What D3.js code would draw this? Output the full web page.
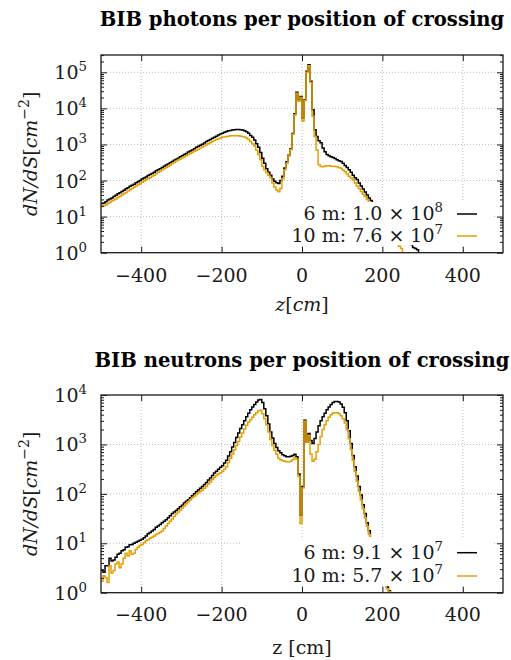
<!DOCTYPE html>
<html>
<head>
<meta charset="utf-8">
<script src="https://cdn.jsdelivr.net/npm/d3@7"></script>
<style>body{margin:0;background:#fff}</style>
</head>
<body>
<div id="chart"></div>
<script>
// 5 cm bins; the edge lists close the last bin
var Z_PHOTONS = d3.range(-500, 305, 5);
var Z_NEUTRONS = d3.range(-500, 235, 5);

var PHOTONS_6M = [
  23,24,26,29,31,33,36,39,43,46,50,54,59,63,69,74,79,87,93,100,
  110,117,126,137,148,158,170,186,200,214,229,250,269,288,309,339,363,389,417,457,
  490,525,562,617,661,708,759,832,891,955,1020,1100,1200,1290,1380,1480,1580,1700,1820,1950,
  2040,2190,2290,2400,2450,2530,2570,2600,2600,2570,2510,2400,2240,2040,1780,1580,1320,1050,832,600,
  417,300,214,170,141,110,95,87,83,100,
  132,224,331,501,759,2000,7080,28200,17400,21400,
  5370,17400,107000,162000,56200,9120,2570,1660,1260,1120,794,631,
  525,490,457,437,407,380,355,339,300,263,229,200,170,141,120,107,85,71,58,48,
  40,33,28,24,21,19,17,15,13,11,10,8.9,7.6,6.6,5.8,5.0,4.4,3.8,3.3,2.8,
  2.4,2.1,1.7,1.4,1.3,1.2,0.8,0.5];
var PHOTONS_10M = [
  19,20,21,23,25,27,29,31,34,37,40,43,47,51,55,60,65,71,76,82,
  89,97,105,112,120,131,141,155,166,180,195,214,229,245,269,295,316,347,372,398,
  427,457,490,525,562,603,646,692,741,794,851,912,977,1050,1120,1200,1290,1380,1450,1510,
  1580,1620,1660,1700,1740,1740,1740,1740,1740,1700,1660,1600,1510,1380,1200,1050,912,700,525,380,
  251,200,166,141,120,85,66,55,49,60,
  112,200,302,479,724,1910,6610,26300,15800,20000,
  4470,16600,100000,151000,52500,6030,1660,708,275,245,240,251,
  257,257,251,251,245,240,229,219,195,174,151,132,117,105,85,71,60,50,42,36,
  30,25,22,19,16,14,12,10.5,9.1,7.9,6.6,5.6,4.8,4.0,3.2,2.5,1.5,1.3,0.5,0.5,
  0.5,0.5,0.5,0.5,0.5,0.5,0.5,0.5];

var NEUTRONS_6M = [
  2.8,2.6,3.5,3.5,5.0,4.4,4.6,5.2,6.0,6.3,7.1,7.4,8.3,8.5,9.3,9.5,10,10.5,11,11.5,
  12,13,14,15.5,16.6,17.8,19,21,22.4,24,26,28,30,33,36,40,43,46,50,55,
  59,65,71,76,83,91,100,110,120,130,141,155,170,190,209,235,263,288,316,347,
  372,420,479,580,708,890,1100,1380,1700,2090,2510,3020,3630,4270,5010,5750,6460,7240,7940,8130,
  7080,5250,3800,2600,1780,1350,1050,870,741,676,617,590,562,562,575,600,
  631,562,251,37,141,3090,1120,1660,1200,1050,1320,1780,
  2400,3000,3630,4270,5010,5750,6460,7080,7410,7410,7240,6610,5620,4370,3020,1900,1050,600,355,230,
  141,95,60,40,26,18,13,10,7.9,6.2,4.8,3.5,2.6,1.8,1.3,1.1,0.5,0.5];
var NEUTRONS_10M = [
  1.7,2.2,2.0,1.6,3.5,2.5,2.8,3.8,4.2,3.2,3.8,5.0,6.3,5.5,7.1,6.0,6.3,7.5,8.3,9.0,
  9.5,10.3,11.2,11.8,12.6,13.2,14,15,15.8,16.8,17.8,20,22.4,25,28,31,35,39,43,47,
  52,57,63,69,76,83,89,97,105,112,120,130,141,158,174,195,214,234,251,265,
  282,316,355,430,525,640,776,950,1150,1410,1700,2040,2450,2800,3160,3550,3980,4370,4790,4900,
  4170,3310,2510,1780,1260,955,759,630,525,490,468,457,447,447,457,490,
  537,501,224,25,132,2950,1120,1510,631,457,501,708,
  1000,1450,2000,2500,3020,3550,3980,4270,4370,4370,4170,3800,3310,2700,2000,1300,794,480,282,180,
  112,75,50,33,22,15,11,8.3,6.3,4.8,3.5,2.8,2.2,1.6,1.2,1.05,0.5,0.5];

var X_TICKS = [-400, -200, 0, 200, 400];
var PHOTON_DECADES = [0, 1, 2, 3, 4, 5];
var NEUTRON_DECADES = [0, 1, 2, 3, 4];
var LEGEND_PHOTONS = [["6 m: 1.0 \u00d7 10", "8"], ["10 m: 7.6 \u00d7 10", "7"]];
var LEGEND_NEUTRONS = [["6 m: 9.1 \u00d7 10", "7"], ["10 m: 5.7 \u00d7 10", "7"]];

(function () {
  "use strict";
  var BLACK = "#000000", ORANGE = "#e69f00", GRID = "#b8b8b8", INK = "#1a1a1a";
  var FONT = "DejaVu Serif";
  var svg = d3.select("#chart").append("svg").attr("width", 511).attr("height", 660)
    .attr("font-family", FONT);

  function supText(sel, base, exp, size) {
    sel.append("tspan").text(base);
    sel.append("tspan").attr("dy", -size * 0.42).attr("font-size", size * 0.7).text(exp);
  }
  function txt(parent) {
    return parent.append("text").attr("font-family", FONT).attr("fill", INK).attr("font-size", 19);
  }

  function panel(o) {
    var iw = 402, ih = 197.7, L = 101;
    txt(svg).attr("x", 302).attr("y", o.titleY).attr("text-anchor", "middle")
      .attr("font-size", 19.6).attr("font-weight", "bold").attr("fill", BLACK).text(o.title);
    var g = svg.append("g").attr("transform", "translate(" + L + "," + o.top + ")");
    var x = d3.scaleLinear().domain([-500, 500]).range([0, iw]);
    var y = d3.scaleLog().domain([1, o.ymax]).range([ih, 0]);
    var clipId = "clip" + o.top;
    g.append("clipPath").attr("id", clipId).append("rect").attr("width", iw).attr("height", ih);

    // dotted grid
    X_TICKS.forEach(function (t) {
      g.append("line").attr("x1", x(t)).attr("x2", x(t)).attr("y1", 0).attr("y2", ih)
        .attr("stroke", GRID).attr("stroke-width", 0.9).attr("stroke-dasharray", "1,2");
    });
    o.decades.forEach(function (d) {
      var yy = y(Math.pow(10, d));
      if (yy <= 0.5 || yy >= ih - 0.5) return;
      g.append("line").attr("x1", 0).attr("x2", iw).attr("y1", yy).attr("y2", yy)
        .attr("stroke", GRID).attr("stroke-width", 0.9).attr("stroke-dasharray", "1,2");
    });

    // histograms as step lines
    var line = d3.line().x(function (d) { return x(d[0]); }).y(function (d) { return y(d[1]); })
      .curve(d3.curveStepAfter);
    var curves = g.append("g").attr("clip-path", "url(#" + clipId + ")");
    o.series.forEach(function (s) {
      var pts = o.edges.map(function (z, i) { return [z, s.values[Math.min(i, s.values.length - 1)]]; });
      curves.append("path").attr("d", line(pts)).attr("fill", "none")
        .attr("stroke", s.color).attr("stroke-width", 1.5);
    });

    // opaque key
    var k = o.key;
    g.append("rect").attr("x", k.x0).attr("y", k.y0).attr("width", k.x1 - k.x0).attr("height", k.y1 - k.y0)
      .attr("fill", "#fff");
    o.legend.forEach(function (e, i) {
      var t = txt(g).attr("x", k.textX).attr("y", k.rows[i] + 6).attr("text-anchor", "end");
      supText(t, e[0], e[1], 19);
      g.append("line").attr("x1", k.lineX0).attr("x2", k.lineX1).attr("y1", k.rows[i]).attr("y2", k.rows[i])
        .attr("stroke", o.series[i].color).attr("stroke-width", 1.5);
    });

    // frame and inward ticks
    g.append("rect").attr("width", iw).attr("height", ih).attr("fill", "none")
      .attr("stroke", INK).attr("stroke-width", 1.3);
    var minors = [];
    o.decades.forEach(function (d) {
      for (var m = 2; m <= 9; m++) {
        var v = m * Math.pow(10, d);
        if (v < o.ymax) minors.push(v);
      }
    });
    var majors = o.decades.map(function (d) { return Math.pow(10, d); });
    function strip(a) { a.select(".domain").remove(); a.selectAll("line").attr("stroke", INK); }
    g.append("g").attr("transform", "translate(0," + ih + ")")
      .call(d3.axisBottom(x).tickValues(X_TICKS).tickSize(-6).tickFormat("")).call(strip);
    g.append("g").call(d3.axisTop(x).tickValues(X_TICKS).tickSize(-6).tickFormat("")).call(strip);
    g.append("g").call(d3.axisLeft(y).tickValues(majors).tickSize(-6).tickFormat("")).call(strip);
    g.append("g").call(d3.axisLeft(y).tickValues(minors).tickSize(-3).tickFormat("")).call(strip);
    g.append("g").attr("transform", "translate(" + iw + ",0)")
      .call(d3.axisRight(y).tickValues(majors).tickSize(-6).tickFormat("")).call(strip);
    g.append("g").attr("transform", "translate(" + iw + ",0)")
      .call(d3.axisRight(y).tickValues(minors).tickSize(-3).tickFormat("")).call(strip);

    // tick labels
    X_TICKS.forEach(function (t) {
      txt(g).attr("x", x(t)).attr("y", ih + o.xTickDy).attr("text-anchor", "middle")
        .text(String(t).replace("-", "\u2212"));
    });
    o.decades.forEach(function (d) {
      var t = txt(g).attr("x", -14).attr("y", y(Math.pow(10, d)) + 7).attr("text-anchor", "end");
      supText(t, "10", String(d), 19);
    });

    // axis titles
    var yl = txt(g).attr("transform", "translate(-64," + (ih / 2) + ") rotate(-90)")
      .attr("text-anchor", "middle");
    yl.append("tspan").attr("font-style", "italic").text("dN/dS");
    yl.append("tspan").text("[");
    yl.append("tspan").attr("font-style", "italic").text("cm");
    yl.append("tspan").attr("dy", -8).attr("font-size", 14).text("\u22122");
    yl.append("tspan").attr("dy", 8).text("]");
    var xl = txt(g).attr("x", iw / 2).attr("y", ih + o.xLabelDy).attr("text-anchor", "middle");
    if (o.italicX) {
      xl.append("tspan").attr("font-style", "italic").text("z");
      xl.append("tspan").text("[");
      xl.append("tspan").attr("font-style", "italic").text("cm");
      xl.append("tspan").text("]");
    } else {
      xl.text("z [cm]");
    }
  }

  panel({
    title: "BIB photons per position of crossing", titleY: 26, top: 55, ymax: Math.pow(10, 5.48),
    decades: PHOTON_DECADES, edges: Z_PHOTONS,
    series: [{ values: PHOTONS_6M, color: BLACK }, { values: PHOTONS_10M, color: ORANGE }],
    legend: LEGEND_PHOTONS,
    key: { x0: 139, x1: 391, y0: 147, y1: 190, textX: 342, lineX0: 356, lineX1: 376, rows: [159, 181] },
    xTickDy: 29, xLabelDy: 58, italicX: true
  });
  panel({
    title: "BIB neutrons per position of crossing", titleY: 367, top: 395, ymax: 1e4,
    decades: NEUTRON_DECADES, edges: Z_NEUTRONS,
    series: [{ values: NEUTRONS_6M, color: BLACK }, { values: NEUTRONS_10M, color: ORANGE }],
    legend: LEGEND_NEUTRONS,
    key: { x0: 139, x1: 391, y0: 142, y1: 191, textX: 342, lineX0: 356, lineX1: 376, rows: [157.7, 181] },
    xTickDy: 28, xLabelDy: 61, italicX: false
  });
})();
</script>
</body>
</html>
